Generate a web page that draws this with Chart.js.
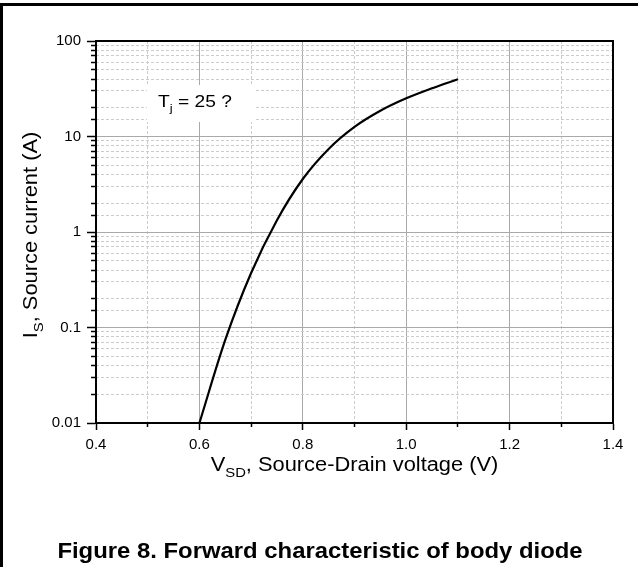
<!DOCTYPE html>
<html>
<head>
<meta charset="utf-8">
<script src="https://cdn.jsdelivr.net/npm/chart.js@4/dist/chart.umd.min.js"></script>
<style>
    html, body { margin: 0; padding: 0; background: #fff; }
    #box { position: relative; width: 638px; height: 567px; }
</style>
</head>
<body>
<div id="box"><canvas id="diodeChart"></canvas></div>
<script>
// dados (V_SD em V, I_S em A)
const vsd = [0.60, 0.65, 0.70, 0.75, 0.80, 0.85, 0.90, 0.95, 1.00, 1.05, 1.10];
const isrc = [0.01, 0.0741, 0.372, 1.33, 3.59, 7.41, 12.6, 18.6, 25.1, 32.0, 39.8];

const xTickLabels = ['0.4', '0.6', '0.8', '1.0', '1.2', '1.4'];
const yTickLabels = ['0.01', '0.1', '1', '10', '100'];

const FONT = 'Arial, "Liberation Sans", Helvetica, sans-serif';
const MAJOR_GRID = '#a9a9a9';
const MINOR_GRID = '#cccccc';

function isMajorX(v) {
    return xTickLabels.includes(v.toFixed(1));
}
function isMajorY(v) {
    const m = v / Math.pow(10, Math.floor(Math.log10(v) + 1e-9));
    return Math.abs(m - 1) < 1e-6;
}

// texto com subscrito (o original é um pouco mais largo que Arial)
function drawSub(ctx, parts, x, y, size) {
    let cx = x;
    parts.forEach(p => {
        const s = p.sub ? size * 0.68 : size;
        ctx.font = s + 'px ' + FONT;
        ctx.fillText(p.t, cx, y + (p.sub ? size * 0.3 : 0));
        cx += ctx.measureText(p.t).width;
    });
    return cx - x;
}
function measureSub(ctx, parts, size) {
    let w = 0;
    parts.forEach(p => {
        ctx.font = (p.sub ? size * 0.68 : size) + 'px ' + FONT;
        w += ctx.measureText(p.t).width;
    });
    return w;
}

const decoPlugin = {
    id: 'deco',
    beforeDraw(chart) {
        const ctx = chart.ctx;
        ctx.save();
        ctx.fillStyle = '#fff';
        ctx.fillRect(0, 0, chart.width, chart.height);
        ctx.restore();
    },
    beforeDatasetsDraw(chart) {
        const ctx = chart.ctx;
        // caixa branca da anotação
        ctx.save();
        ctx.fillStyle = '#fff';
        ctx.fillRect(147, 85, 108, 37);
        ctx.fillStyle = '#000';
        ctx.textBaseline = 'alphabetic';
        ctx.textAlign = 'left';
        ctx.translate(158, 107);
        ctx.scale(1.13, 1);
        drawSub(ctx, [{t: 'T'}, {t: 'j', sub: true}, {t: ' = 25 ?'}], 0, 0, 17);
        ctx.restore();
    },
    afterDraw(chart) {
        const ctx = chart.ctx;
        const a = chart.chartArea;
        const cxm = (a.left + a.right) / 2;
        const cym = (a.top + a.bottom) / 2;
        ctx.save();
        // moldura do gráfico
        ctx.strokeStyle = '#000';
        ctx.lineWidth = 2;
        ctx.strokeRect(a.left, a.top, a.right - a.left, a.bottom - a.top);

        ctx.fillStyle = '#000';
        ctx.textBaseline = 'alphabetic';
        ctx.textAlign = 'left';

        // título eixo X
        const xt = [{t: 'V'}, {t: 'SD', sub: true}, {t: ', Source-Drain voltage (V)'}];
        const xw = measureSub(ctx, xt, 19.5);
        ctx.save();
        ctx.translate(cxm, 471);
        ctx.scale(1.12, 1);
        drawSub(ctx, xt, -xw / 2, 0, 19.5);
        ctx.restore();

        // título eixo Y
        const yt = [{t: 'I'}, {t: 'S', sub: true}, {t: ', Source current (A)'}];
        const yw = measureSub(ctx, yt, 19.5);
        ctx.save();
        ctx.translate(37, cym + 3);
        ctx.rotate(-Math.PI / 2);
        ctx.scale(1.12, 1);
        drawSub(ctx, yt, -yw / 2, 0, 19.5);
        ctx.restore();

        // legenda da figura
        ctx.save();
        ctx.font = 'bold 22px ' + FONT;
        ctx.textAlign = 'center';
        ctx.translate(320, 558);
        ctx.scale(1.085, 1);
        ctx.fillText('Figure 8. Forward characteristic of body diode', 0, 0);
        ctx.restore();

        // bordas da página
        ctx.fillRect(0, 3, chart.width, 3);
        ctx.fillRect(0, 3, 3, chart.height);
        ctx.restore();
    }
};

new Chart(document.getElementById('diodeChart'), {
    type: 'line',
    data: {
        datasets: [{
            data: vsd.map((v, i) => ({x: v, y: isrc[i]})),
            borderColor: '#000',
            borderWidth: 2.2,
            pointRadius: 0,
            fill: false,
            cubicInterpolationMode: 'monotone'
        }]
    },
    options: {
        responsive: true,
        maintainAspectRatio: false,
        animation: false,
        layout: { padding: { top: 41, right: 25, left: 0, bottom: 0 } },
        plugins: {
            legend: { display: false },
            tooltip: { enabled: false }
        },
        scales: {
            x: {
                type: 'linear',
                position: 'bottom',
                weight: 1,
                min: 0.4,
                max: 1.4,
                afterFit: s => { s.height = 144; },
                ticks: {
                    stepSize: 0.1,
                    autoSkip: false,
                    maxRotation: 0,
                    padding: 6,
                    color: '#000',
                    font: { family: FONT, size: 15 },
                    callback: v => isMajorX(v) ? v.toFixed(1) : ''
                },
                grid: {
                    color: c => (c.tick && isMajorX(c.tick.value)) ? MAJOR_GRID : 'rgba(0,0,0,0)',
                    tickColor: c => (c.tick && isMajorX(c.tick.value)) ? '#000' : 'rgba(0,0,0,0)',
                    tickLength: 7,
                    tickWidth: 1.5,
                    lineWidth: 1
                },
                border: { display: true, color: '#000', width: 2 }
            },
            x2: {
                type: 'linear',
                position: 'bottom',
                weight: 0,
                min: 0.4,
                max: 1.4,
                afterFit: s => { s.height = 0; },
                ticks: { stepSize: 0.1, display: false },
                grid: {
                    color: c => (c.tick && !isMajorX(c.tick.value)) ? MINOR_GRID : 'rgba(0,0,0,0)',
                    tickColor: c => (c.tick && !isMajorX(c.tick.value)) ? '#000' : 'rgba(0,0,0,0)',
                    tickLength: 4,
                    tickWidth: 1.5,
                    lineWidth: 1
                },
                border: { display: false, dash: [3, 2] }
            },
            y: {
                type: 'logarithmic',
                position: 'left',
                weight: 1,
                min: 0.01,
                max: 100,
                afterFit: s => { s.width = 96; },
                ticks: {
                    autoSkip: false,
                    padding: 6,
                    color: '#000',
                    font: { family: FONT, size: 15 },
                    callback: v => {
                        const s = Number(Number(v).toPrecision(1)).toString();
                        return (isMajorY(v) && yTickLabels.includes(s)) ? s : '';
                    }
                },
                grid: {
                    color: c => (c.tick && isMajorY(c.tick.value)) ? MAJOR_GRID : 'rgba(0,0,0,0)',
                    tickColor: c => (c.tick && isMajorY(c.tick.value)) ? '#000' : 'rgba(0,0,0,0)',
                    tickLength: 9,
                    tickWidth: 1.5,
                    lineWidth: 1
                },
                border: { display: true, color: '#000', width: 2 }
            },
            y2: {
                type: 'logarithmic',
                position: 'left',
                weight: 0,
                min: 0.01,
                max: 100,
                afterFit: s => { s.width = 0; },
                ticks: { display: false },
                grid: {
                    color: c => (c.tick && !isMajorY(c.tick.value)) ? MINOR_GRID : 'rgba(0,0,0,0)',
                    tickColor: c => (c.tick && !isMajorY(c.tick.value)) ? '#000' : 'rgba(0,0,0,0)',
                    tickLength: 5,
                    tickWidth: 1.5,
                    lineWidth: 1
                },
                border: { display: false, dash: [3, 2] }
            }
        }
    },
    plugins: [decoPlugin]
});
</script>
</body>
</html>
